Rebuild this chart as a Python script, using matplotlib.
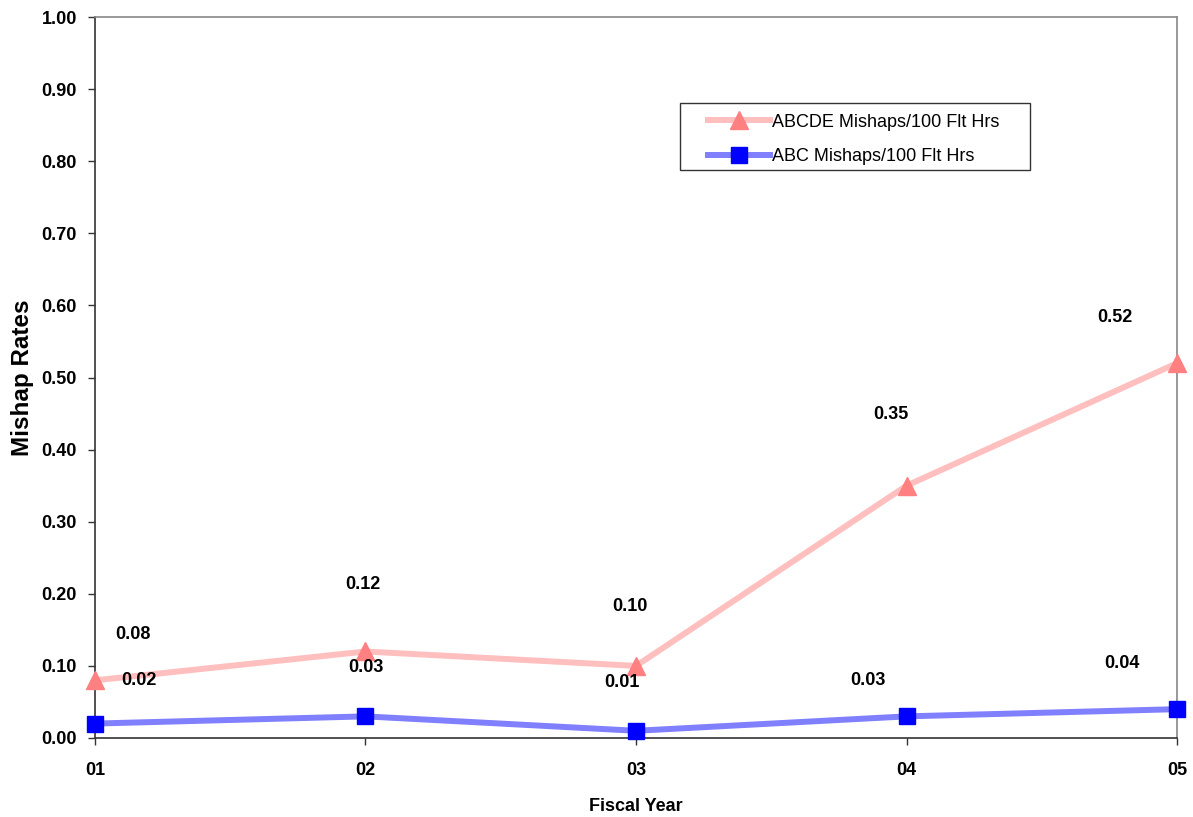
import matplotlib.pyplot as plt
from matplotlib.patches import Rectangle

plt.rcParams['font.family'] = ['Liberation Sans', 'DejaVu Sans']

years = ["01", "02", "03", "04", "05"]
abcde_rates = [0.08, 0.12, 0.10, 0.35, 0.52]
abc_rates = [0.02, 0.03, 0.01, 0.03, 0.04]

# hand-placed label offsets (points) for each data label
abcde_offsets = [(27, 33), (-2, 48), (-4, 43), (-11, 51), (-45, 33)]
abc_offsets = [(32, 31), (0, 35), (-10, 35), (-28, 26), (-40, 33)]

fig = plt.figure(figsize=(11.93, 8.17), dpi=100)
ax = fig.add_axes([0.0796, 0.0967, 0.907, 0.8823])

x = list(range(len(years)))
ax.plot(x, abcde_rates, color="#FFBFBF", lw=4.3, marker="^", ms=13.5,
        mfc="#FF8080", mec="#FF8080", clip_on=False, zorder=3,
        label="ABCDE Mishaps/100 Flt Hrs")
ax.plot(x, abc_rates, color="#8080FF", lw=4.3, marker="s", ms=12,
        mfc="#0000FF", mec="#0000FF", clip_on=False, zorder=4,
        label="ABC Mishaps/100 Flt Hrs")

for xi, v, off in zip(x, abcde_rates, abcde_offsets):
    ax.annotate(f"{v:.2f}", (xi, v), xytext=off, textcoords="offset points",
                ha="center", va="center", fontsize=13, fontweight="bold")
for xi, v, off in zip(x, abc_rates, abc_offsets):
    ax.annotate(f"{v:.2f}", (xi, v), xytext=off, textcoords="offset points",
                ha="center", va="center", fontsize=13, fontweight="bold")

ax.set_xlim(0, 4)
ax.set_ylim(0, 1.0)
ax.set_xticks(x)
ax.set_xticklabels(years)
ax.set_yticks([i / 10 for i in range(11)])
ax.set_yticklabels([f"{i / 10:.2f}" for i in range(11)])
ax.tick_params(direction="out", length=5, width=1, colors="#333333",
               labelcolor="black", labelsize=13)
for lbl in ax.get_xticklabels() + ax.get_yticklabels():
    lbl.set_fontweight("bold")
ax.tick_params(axis="x", pad=12)
ax.tick_params(axis="y", pad=8)

ax.spines["left"].set_color("#333333")
ax.spines["bottom"].set_color("#333333")
ax.spines["top"].set_color("#888888")
ax.spines["right"].set_color("#888888")
for s in ax.spines.values():
    s.set_linewidth(1.2)

ax.set_xlabel("Fiscal Year", fontsize=13, fontweight="bold", labelpad=14)
ax.set_ylabel("Mishap Rates", fontsize=17.5, fontweight="bold", labelpad=5)

# legend box drawn separately so it can have wide side padding
ax.add_patch(Rectangle((0.5407, 0.7878), 0.3234, 0.0929, transform=ax.transAxes,
                       fill=True, facecolor="white", edgecolor="#333333",
                       lw=1.0, zorder=5))
leg = ax.legend(loc="upper left", bbox_to_anchor=(0.5665, 0.8660), fontsize=13,
                frameon=False, handlelength=3.45, handletextpad=0.1,
                borderpad=0, labelspacing=0.96, borderaxespad=0)
leg.set_zorder(6)

fig.savefig("out.png", dpi=100)
